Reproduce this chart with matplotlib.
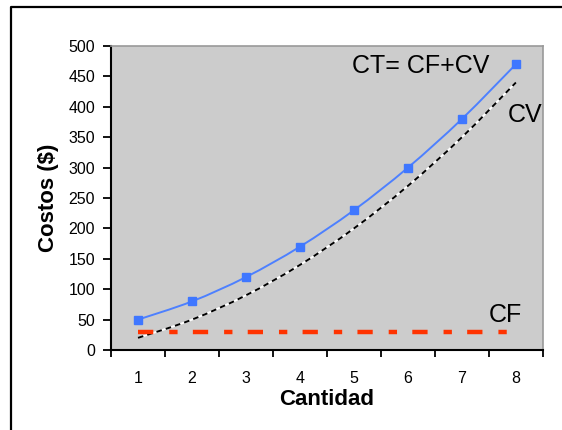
import matplotlib
matplotlib.use('Agg')
from matplotlib import pyplot as plt
from matplotlib.path import Path
from matplotlib.patches import PathPatch
from matplotlib.lines import Line2D

# datos
cantidad = [1, 2, 3, 4, 5, 6, 7, 8]
ct = [50, 80, 120, 170, 230, 300, 380, 470]
cv = [20, 50, 90, 140, 200, 270, 350, 440]
cf = [30, 30, 30, 30, 30, 30, 30, 30]
yticks = [0, 50, 100, 150, 200, 250, 300, 350, 400, 450, 500]

plt.rcParams['font.family'] = ['Liberation Sans', 'DejaVu Sans']
plt.rcParams['lines.scale_dashes'] = False


def curva(x, y):
    # curva suavizada (Catmull-Rom -> Bezier)
    verts = [(x[0], y[0])]
    codes = [Path.MOVETO]
    n = len(x)
    for i in range(n - 1):
        x0, y0 = (x[i - 1], y[i - 1]) if i > 0 else (x[i], y[i])
        x3, y3 = (x[i + 2], y[i + 2]) if i + 2 < n else (x[i + 1], y[i + 1])
        c1 = (x[i] + (x[i + 1] - x0) / 6, y[i] + (y[i + 1] - y0) / 6)
        c2 = (x[i + 1] - (x3 - x[i]) / 6, y[i + 1] - (y3 - y[i]) / 6)
        verts += [c1, c2, (x[i + 1], y[i + 1])]
        codes += [Path.CURVE4] * 3
    return Path(verts, codes)


fig = plt.figure(figsize=(5.62, 4.30), dpi=100)
ax = fig.add_axes([0.1975, 0.186, 0.7685, 0.707])
ax.set_facecolor('#cccccc')

# CF
ax.plot(cantidad, cf, color='#ff3300', lw=3.2, dashes=(11, 11.5, 6, 11),
        solid_capstyle='butt', dash_capstyle='butt')
# CV
ax.add_patch(PathPatch(curva(cantidad, cv), fill=False, ec='white', lw=1.4))
ax.add_patch(PathPatch(curva(cantidad, cv), fill=False, ec='black', lw=1.4,
                       ls=(0, (4, 3))))
# CT
ax.add_patch(PathPatch(curva(cantidad, ct), fill=False, ec='#4d80ff', lw=1.4))
ax.plot(cantidad, ct, ls='none', marker='s', ms=5.5, color='#3f77ff')

ax.text(4.96, 455, 'CT= CF+CV', fontsize=18, ha='left', va='baseline')
ax.text(7.85, 375, 'CV', fontsize=18, ha='left', va='baseline')
ax.text(7.5, 46, 'CF', fontsize=18, ha='left', va='baseline')

ax.set_xlim(0.5, 8.5)
ax.set_ylim(0, 500)
ax.set_yticks(yticks)
ax.set_xticks(cantidad)
ax.set_xticks([i + 0.5 for i in range(0, 9)], minor=True)
ax.tick_params(axis='x', which='major', length=0, pad=15, labelsize=11.5)
ax.tick_params(axis='x', which='minor', length=5, width=1.3, direction='out')
ax.tick_params(axis='y', length=5.5, width=1.3, pad=6, labelsize=11.5)

for s in ['left', 'bottom']:
    ax.spines[s].set_linewidth(1.5)
    ax.spines[s].set_color('black')
for s in ['top', 'right']:
    ax.spines[s].set_linewidth(1.2)
    ax.spines[s].set_color('#999999')

ax.set_xlabel('Cantidad', fontsize=16, fontweight='bold', labelpad=2)
ax.set_ylabel('Costos ($)', fontsize=16, fontweight='bold', labelpad=7)

# marco
fig.lines.append(Line2D([11 / 562, 11 / 562, 1.0], [0.0, 1 - 7 / 430, 1 - 7 / 430],
                        transform=fig.transFigure, color='black', lw=1.6))

fig.savefig('out.png', dpi=100)
